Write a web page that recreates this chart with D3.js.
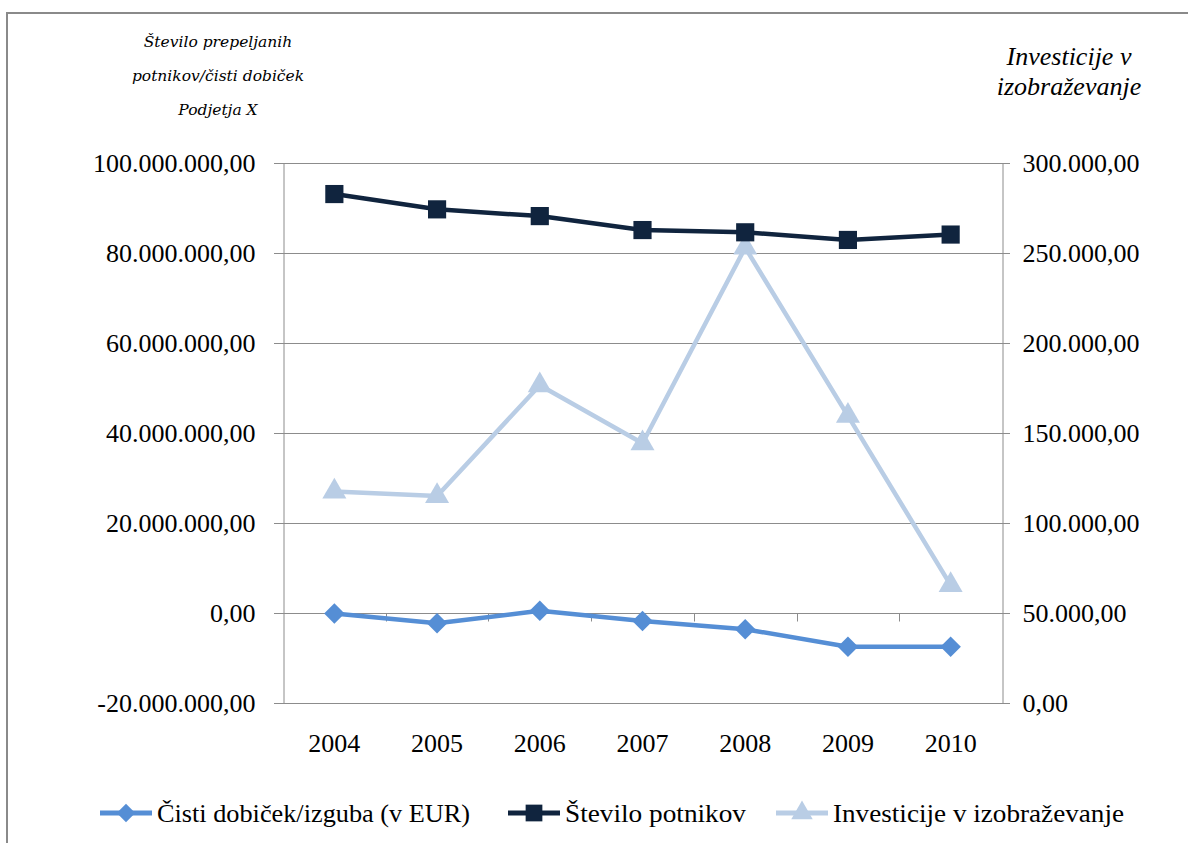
<!DOCTYPE html>
<html>
<head>
<meta charset="utf-8">
<script src="https://cdn.jsdelivr.net/npm/d3@7"></script>
<style>
  html, body { margin: 0; padding: 0; background: #fff; }
  svg { display: block; }
</style>
</head>
<body>
<svg id="chart" width="1188" height="843"></svg>
<script>
// Years on the category axis
const years = ["2004", "2005", "2006", "2007", "2008", "2009", "2010"];
// Net profit / loss in EUR (left axis)
const profit = [-100000, -2300000, 500000, -1800000, -3600000, -7500000, -7500000];
// Number of passengers (left axis)
const passengers = [93100000, 89700000, 88200000, 85100000, 84600000, 82900000, 84100000];
// Investment in education (right axis)
const investments = [117500, 115000, 176500, 144300, 253000, 159500, 65500];
// Axis ticks
const leftTicks = [-20000000, 0, 20000000, 40000000, 60000000, 80000000, 100000000];
const rightTicks = [0, 50000, 100000, 150000, 200000, 250000, 300000];
// Legend labels
const seriesNames = ["Čisti dobiček/izguba (v EUR)", "Število potnikov", "Investicije v izobraževanje"];

const svg = d3.select("#chart");
const plot = { left: 283, right: 1002, top: 163, bottom: 703 };
const serif = "'Liberation Serif', 'Times New Roman', serif";
const gridColor = "#8c8c8c";
const colors = { profit: "#558ed5", passengers: "#10243e", investments: "#b9cde5" };

const loc = d3.formatLocale({ decimal: ",", thousands: ".", grouping: [3], currency: ["", ""], minus: "-" });
const fmt = loc.format(",.2f");

const x = d3.scaleBand().domain(years).range([plot.left, plot.right]);
const xc = d => x(d) + x.bandwidth() / 2;
const yL = d3.scaleLinear().domain([-20000000, 100000000]).range([plot.bottom, plot.top]);
const yR = d3.scaleLinear().domain([0, 300000]).range([plot.bottom, plot.top]);

// Marker shapes: a square turned 45° for the diamond
const markers = {
  diamond: size => d3.symbol().type(d3.symbolSquare).size(size)(),
  square: size => d3.symbol().type(d3.symbolSquare).size(size)(),
  triangle: size => d3.symbol().type(d3.symbolTriangle).size(size)()
};
const rot = { diamond: 45, square: 0, triangle: 0 };

// Outer frame (continues past the right and bottom edges)
svg.append("rect")
  .attr("x", 7).attr("y", 13).attr("width", 1300).attr("height", 900)
  .attr("fill", "none").attr("stroke", "#8a8a8a").attr("stroke-width", 2);

// Horizontal gridlines with outward ticks on both sides
svg.append("g").selectAll("line").data(leftTicks).join("line")
  .attr("x1", plot.left - 9).attr("x2", plot.right + 8)
  .attr("y1", d => Math.round(yL(d)) + 0.5).attr("y2", d => Math.round(yL(d)) + 0.5)
  .attr("stroke", gridColor).attr("stroke-width", 1);

// Left and right value axes
const leftAxis = d3.axisLeft(yL).tickValues(leftTicks).tickFormat(fmt).tickSize(0).tickPadding(28);
const gL = svg.append("g").attr("transform", `translate(${plot.left + 0.5},0)`).call(leftAxis);
const rightAxis = d3.axisRight(yR).tickValues(rightTicks).tickFormat(fmt).tickSize(0).tickPadding(20);
const gR = svg.append("g").attr("transform", `translate(${plot.right + 0.5},0)`).call(rightAxis);
[gL, gR].forEach(g => {
  g.select(".domain").attr("stroke", gridColor).attr("stroke-width", 1);
  g.selectAll("text").attr("font-family", serif).attr("font-size", 26).attr("fill", "#000");
});

// Category axis along the zero line with boundary ticks
const y0 = Math.round(yL(0)) + 0.5;
const boundaries = years.slice(1).map(d => x(d));
svg.append("g").selectAll("line").data(boundaries).join("line")
  .attr("x1", d => Math.round(d) + 0.5).attr("x2", d => Math.round(d) + 0.5)
  .attr("y1", y0).attr("y2", y0 + 8)
  .attr("stroke", gridColor).attr("stroke-width", 1);

svg.append("g").selectAll("text").data(years).join("text")
  .attr("x", d => xc(d)).attr("y", 752)
  .attr("text-anchor", "middle")
  .attr("font-family", serif).attr("font-size", 26).attr("fill", "#000")
  .text(d => d);

// Series lines
const lineL = d3.line().x((d, i) => xc(years[i])).y(d => yL(d));
const lineR = d3.line().x((d, i) => xc(years[i])).y(d => yR(d));

function drawSeries(values, line, scale, color, shape, size) {
  const g = svg.append("g");
  g.append("path").datum(values).attr("d", line)
    .attr("fill", "none").attr("stroke", color).attr("stroke-width", 4.5)
    .attr("stroke-linejoin", "round");
  g.selectAll("path.mk").data(values).join("path").attr("class", "mk")
    .attr("transform", (d, i) => `translate(${xc(years[i])},${scale(d)}) rotate(${rot[shape]})`)
    .attr("d", markers[shape](size))
    .attr("fill", color);
}

drawSeries(investments, lineR, yR, colors.investments, "triangle", 250);
drawSeries(profit, lineL, yL, colors.profit, "diamond", 210);
drawSeries(passengers, lineL, yL, colors.passengers, "square", 330);

// Left title
const leftTitle = ["Število prepeljanih", "potnikov/čisti dobiček", "Podjetja X"];
svg.append("g").selectAll("text").data(leftTitle).join("text")
  .attr("x", 218).attr("y", (d, i) => 47 + i * 34)
  .attr("text-anchor", "middle")
  .attr("font-family", "'DejaVu Serif', serif").attr("font-style", "italic")
  .attr("font-size", 15.5).attr("fill", "#000")
  .text(d => d);

// Right title
const rightTitle = ["Investicije v", "izobraževanje"];
svg.append("g").selectAll("text").data(rightTitle).join("text")
  .attr("x", 1069).attr("y", (d, i) => 65 + i * 30)
  .attr("text-anchor", "middle")
  .attr("font-family", serif).attr("font-style", "italic")
  .attr("font-size", 26).attr("fill", "#000")
  .text(d => d);

// Legend
const legendItems = [
  { name: seriesNames[0], color: colors.profit, shape: "diamond", size: 170, x0: 100, w: 313 },
  { name: seriesNames[1], color: colors.passengers, shape: "square", size: 280, x0: 508, w: 181 },
  { name: seriesNames[2], color: colors.investments, shape: "triangle", size: 200, x0: 776, w: 291 }
];
const ly = 813;
const lg = svg.append("g").selectAll("g").data(legendItems).join("g");
lg.append("line")
  .attr("x1", d => d.x0).attr("x2", d => d.x0 + 52)
  .attr("y1", ly).attr("y2", ly)
  .attr("stroke", d => d.color).attr("stroke-width", 5);
lg.append("path")
  .attr("transform", d => `translate(${d.x0 + 26},${ly}) rotate(${rot[d.shape]})`)
  .attr("d", d => markers[d.shape](d.size))
  .attr("fill", d => d.color);
lg.append("text")
  .attr("x", d => d.x0 + 57).attr("y", ly + 9)
  .attr("font-family", serif).attr("font-size", 26).attr("fill", "#000")
  .attr("textLength", d => d.w).attr("lengthAdjust", "spacingAndGlyphs")
  .text(d => d.name);
</script>
</body>
</html>
